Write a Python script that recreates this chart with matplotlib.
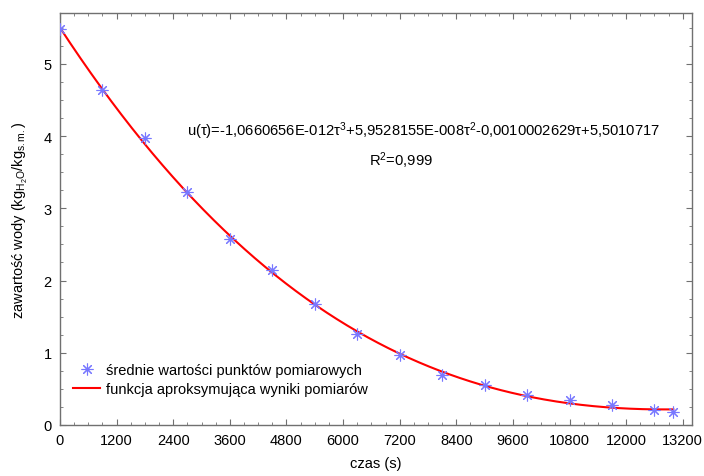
import numpy as np
import matplotlib
matplotlib.use('Agg')
import matplotlib.pyplot as plt
from matplotlib.ticker import MultipleLocator

plt.rcParams['font.family'] = ['Liberation Sans', 'DejaVu Sans']
plt.rcParams['mathtext.fontset'] = 'custom'
plt.rcParams['mathtext.rm'] = 'Liberation Sans'
plt.rcParams['mathtext.it'] = 'Liberation Sans:italic'

# measured mean values
czas = [0, 900, 1800, 2700, 3600, 4500, 5400, 6300, 7200, 8100, 9000, 9900, 10800, 11700, 12600, 13000]
zawartosc = [5.48, 4.64, 3.97, 3.22, 2.57, 2.14, 1.68, 1.26, 0.97, 0.69, 0.56, 0.41, 0.35, 0.27, 0.21, 0.18]

# coefficients printed on the chart (tau^3, tau^2, tau, 1)
wspolczynniki = [-1.0660656e-12, 5.9528155e-08, -0.0010002629, 5.5010717]

fig = plt.figure(figsize=(7.04, 4.77), dpi=100)
ax = fig.add_axes([0.0852, 0.107, 0.898, 0.863])

t = np.linspace(czas[0], czas[-1], 300)
ax.plot(czas, zawartosc, linestyle='None', marker=(8, 2, 0), markersize=8.5,
        color='#7878ff', markeredgewidth=0.8, label='średnie wartości punktów pomiarowych', zorder=3)
ax.plot(t, np.polyval(wspolczynniki, t), color='#ff0000', linewidth=1.5,
        label='funkcja aproksymująca wyniki pomiarów', zorder=2)

ax.set_xlim(0, 13400)
ax.set_ylim(0, 5.7)
ax.xaxis.set_major_locator(MultipleLocator(1200))
ax.xaxis.set_minor_locator(MultipleLocator(300))
ax.yaxis.set_major_locator(MultipleLocator(1))
ax.yaxis.set_minor_locator(MultipleLocator(0.25))

for s in ax.spines.values():
    s.set_color('#707070')
    s.set_linewidth(1.0)
ax.tick_params(which='both', direction='in', top=True, right=True, color='#707070', labelsize=10.5)
ax.tick_params(which='major', length=4, pad=6)
ax.tick_params(which='minor', length=2)

ax.set_xlabel('czas (s)', fontsize=10.5, labelpad=6)
ax.set_ylabel('zawartość wody (kg$_{\\mathrm{H_2O}}$/kg$_{\\mathrm{s.m.}}$)', fontsize=10.5, labelpad=10)

ax.text(7696, 4.086, 'u(τ)=-1,0660656E-012τ$^3$+5,9528155E-008τ$^2$-0,0010002629τ+5,5010717',
        ha='center', va='center', fontsize=10.6)
ax.text(7229, 3.67, 'R$^2$=0,999', ha='center', va='center', fontsize=10.6)

ax.legend(loc='upper left', bbox_to_anchor=(0.012, 0.164), frameon=False, fontsize=10.5,
          handlelength=1.8, handletextpad=0.45, labelspacing=0.3, borderaxespad=0)

fig.savefig('out.png', dpi=100)
